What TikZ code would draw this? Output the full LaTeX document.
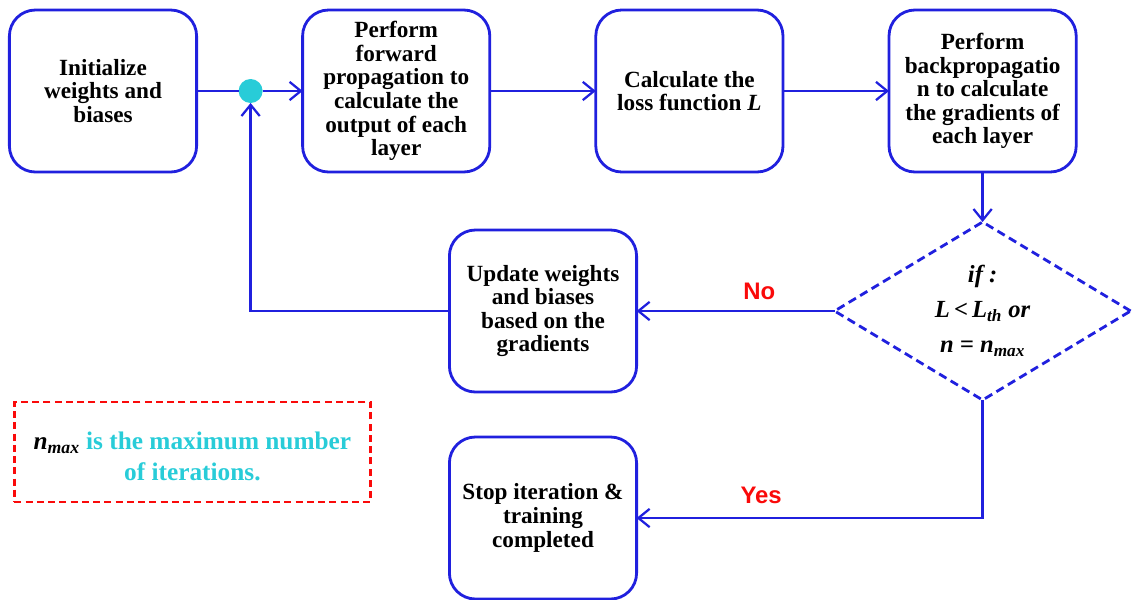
\documentclass[tikz,border=0pt]{standalone}
\usepackage{fontspec}
\setmainfont{Liberation Serif}
\newfontfamily\labelfont{Liberation Sans}
\usepackage{tikz}
\usetikzlibrary{positioning}
\usetikzlibrary{shapes.geometric, arrows.meta}

\definecolor{flowblue}{RGB}{32,32,222}
\definecolor{notecyan}{RGB}{40,204,216}
\definecolor{labelred}{RGB}{250,10,10}

\begin{document}
\begin{tikzpicture}[
    box/.style={
        rectangle, rounded corners=0.65cm, draw=flowblue, line width=2pt, fill=white,
        minimum height=4.05cm, minimum width=4.68cm, align=center, inner sep=2pt, outer sep=0pt,
        font=\bfseries\fontsize{16.5}{16.8}\selectfont
    },
    decision/.style={
        diamond, aspect=1.66, draw=flowblue, line width=2pt, dash pattern=on 6pt off 3.5pt,
        minimum width=7.4cm, minimum height=4.45cm, inner sep=0pt, outer sep=0pt, align=center,
        font=\bfseries\itshape\fontsize{17.5}{25}\selectfont
    },
    line/.style={
        draw=flowblue, line width=2pt, -{Straight Barb[length=8pt,width=13pt,line width=1.6pt]}
    },
    answer/.style={
        text=labelred, font=\labelfont\bfseries\fontsize{17}{20}\selectfont
    }
]
\useasboundingbox (0,0) rectangle (28.3,-14.975);

% Top row
\node[box] (init) at (2.575,-2.275) {Initialize\\weights and\\biases};
\node[box, right=2.65cm of init] (forward) {Perform\\forward\\propagation to\\calculate the\\output of each\\layer};
\node[box, right=2.65cm of forward] (loss) {Calculate the\\loss function \textit{L}};
\node[box, right=2.65cm of loss] (backprop) {Perform\\backpropagatio\\n to calculate\\the gradients of\\each layer};

% Merge point
\node[circle, fill=notecyan, minimum size=0.6cm, inner sep=0pt, outer sep=0pt, right=1.05cm of init] (dot) {};

% Decision
\node[decision, below=1.25cm of backprop] (check) {if :\\\textit{L}\,<\,\textit{L}\textsubscript{\textit{th}} or\\\textit{n} = \textit{n}\textsubscript{\textit{max}}};

% Second and third level
\node[box, left=4.95cm of check] (update) {Update weights\\and biases\\based on the\\gradients};
\node[box, below=1.125cm of update] (stop) {Stop iteration \&\\training\\completed};

% Note
\node[draw=labelred, line width=1.6pt, dash pattern=on 5pt off 3pt, minimum width=8.9cm, minimum height=2.5cm,
      align=center, font=\bfseries\fontsize{18}{22}\selectfont, text=notecyan, outer sep=0pt,
      below left=0.25cm and 1.975cm of update] (note)
      {\rule{0pt}{19pt}{\color{black}\textit{n}\textsubscript{\textit{max}}} is the maximum number\\of iterations.};

% Draw connections
\draw[flowblue, line width=2pt] (init) -- (dot);
\draw[line] (dot) -- (forward);
\draw[line] (forward) -- (loss);
\draw[line] (loss) -- (backprop);
\draw[line] (backprop) -- (check);
\draw[line] (check) -- (update) node[answer, above=4pt, pos=0.38] {No};
\draw[line] (update.west) -| (dot.south);
\draw[line] (check.south) |- (stop.east) node[answer, above=6pt, pos=0.82] {Yes};

\end{tikzpicture}
\end{document}
